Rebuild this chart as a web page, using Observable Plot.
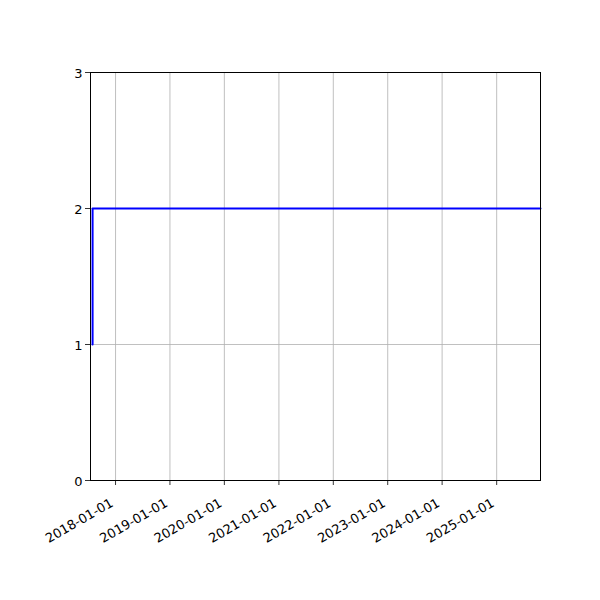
<!DOCTYPE html>
<html>
<head>
<meta charset="utf-8">
<script src="https://cdn.jsdelivr.net/npm/d3@7"></script>
<script src="https://cdn.jsdelivr.net/npm/@observablehq/plot@0.6"></script>
<style>
  html, body { margin: 0; padding: 0; background: white; }
</style>
</head>
<body>
<div id="chart"></div>
<script>
const dates = ["2017-07-30", "2017-07-31", "2025-10-22"];
const values = [1, 2, 2];
const xDomain = ["2017-07-17", "2025-10-22"];
const xTicks = ["2018-01-01", "2019-01-01", "2020-01-01", "2021-01-01", "2022-01-01", "2023-01-01", "2024-01-01", "2025-01-01"];
const yTicks = [0, 1, 2, 3];

const parse = d3.utcParse("%Y-%m-%d");
const data = dates.map((d, i) => ({date: parse(d), value: values[i]}));
const fmt = d3.utcFormat("%Y-%m-%d");
const xTickDates = xTicks.map(parse);

const chart = Plot.plot({
  width: 600,
  height: 600,
  marginLeft: 90,
  marginRight: 60,
  marginTop: 72,
  marginBottom: 120,
  style: {fontFamily: "DejaVu Sans", fontSize: "13px", color: "black", background: "white"},
  x: {type: "utc", domain: xDomain.map(parse)},
  y: {domain: [0, 3]},
  marks: [
    Plot.gridX(xTickDates, {stroke: "#b0b0b0", strokeOpacity: 1, strokeWidth: 0.8}),
    Plot.gridY(yTicks, {stroke: "#b0b0b0", strokeOpacity: 1, strokeWidth: 0.8}),
    Plot.line(data, {x: "date", y: "value", curve: "step-after", stroke: "#0000ff", strokeWidth: 2}),
    Plot.frame({stroke: "black", strokeWidth: 1}),
    Plot.axisY(yTicks, {tickSize: 5, tickFormat: () => "", label: null, stroke: "black", strokeWidth: 0.8}),
    Plot.text(yTicks, {y: d => d, text: d => String(d), frameAnchor: "left", textAnchor: "end", dx: -8, dy: 1, fill: "black", fontSize: 13}),
    Plot.axisX(xTickDates, {tickSize: 5, tickFormat: () => "", label: null, stroke: "black", strokeWidth: 0.8}),
    Plot.text(xTickDates, {x: d => d, text: d => fmt(d), frameAnchor: "bottom", textAnchor: "end", lineAnchor: "top", rotate: -30, dx: -6, dy: 17, fill: "black", fontSize: 13})
  ]
});
document.getElementById("chart").appendChild(chart);
</script>
</body>
</html>
